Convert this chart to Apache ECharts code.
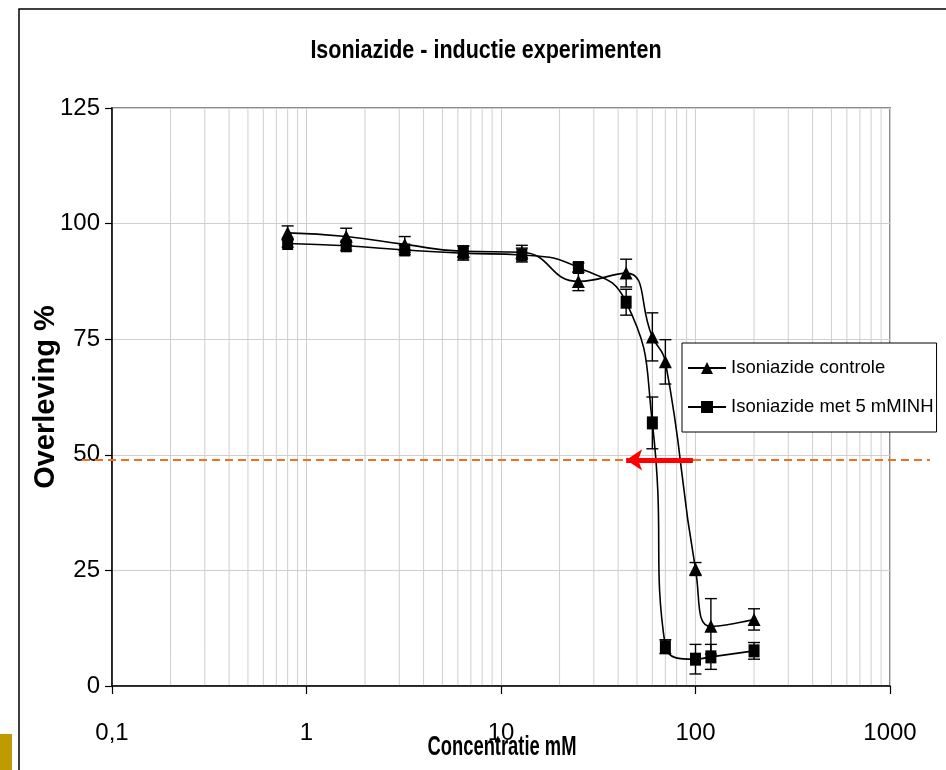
<!DOCTYPE html>
<html>
<head>
<meta charset="utf-8">
<title>Isoniazide - inductie experimenten</title>
<script src="https://cdn.jsdelivr.net/npm/echarts@6/dist/echarts.min.js"></script>
<style>
  html, body { margin: 0; padding: 0; background: #fff; }
  #chart { width: 946px; height: 770px; }
</style>
</head>
<body>
<div id="chart"></div>
<script>
// concentraties (mM), log schaal
var concentrations = [0.8, 1.6, 3.2, 6.4, 12.8, 25, 44, 60, 70, 100, 120, 200]
// overleving % met standaardfout
var controle = [98.0, 97.2, 95.5, 94.0, 93.8, 87.5, 89.3, 75.5, 70.1, 25.3, 12.9, 14.4]
var controleErr = [1.5, 1.8, 1.7, 1.2, 1.5, 2.0, 3.0, 5.2, 4.8, 1.4, 6.0, 2.3]
var met5 = [95.7, 95.2, 94.3, 93.6, 93.2, 90.5, 83.0, 56.9, 8.5, 5.8, 6.3, 7.6]
var met5Err = [0.8, 1.0, 1.0, 1.5, 1.5, 1.0, 2.8, 5.6, 1.5, 3.2, 2.7, 1.8]

var xTicks = [0.1, 1, 10, 100, 1000]
var minorTicks = [0.2, 0.3, 0.4, 0.5, 0.6, 0.7, 0.8, 0.9, 2, 3, 4, 5, 6, 7, 8, 9,
  20, 30, 40, 50, 60, 70, 80, 90, 200, 300, 400, 500, 600, 700, 800, 900]
var yTicks = [0, 25, 50, 75, 100, 125]

// 50% niveau en pijl
var halfLevel = 48.9
var arrowFrom = 97
var arrowTo = 44

var seriesNames = ['Isoniazide controle', 'Isoniazide met 5 mMINH']
var FONT = '"Liberation Sans", Arial, sans-serif'

function pairs(xs, ys) {
  return xs.map(function (x, i) { return [x, ys[i]] })
}
function errRows(xs, ys, es) {
  return xs.map(function (x, i) { return [x, ys[i] - es[i], ys[i] + es[i]] })
}

function renderError(params, api) {
  var top = api.coord([api.value(0), api.value(2)])
  var bot = api.coord([api.value(0), api.value(1)])
  var w = 6
  var style = { stroke: '#000', lineWidth: 1.4 }
  return {
    type: 'group',
    children: [
      { type: 'line', shape: { x1: top[0], y1: top[1], x2: bot[0], y2: bot[1] }, style: style },
      { type: 'line', shape: { x1: top[0] - w, y1: top[1], x2: top[0] + w, y2: top[1] }, style: style },
      { type: 'line', shape: { x1: bot[0] - w, y1: bot[1], x2: bot[0] + w, y2: bot[1] }, style: style }
    ]
  }
}

function renderMinor(params, api) {
  var a = api.coord([api.value(0), yTicks[0]])
  var b = api.coord([api.value(0), yTicks[yTicks.length - 1]])
  return {
    type: 'line',
    shape: { x1: a[0], y1: a[1], x2: b[0], y2: b[1] },
    style: { stroke: '#cfcfcf', lineWidth: 1 }
  }
}

var chart = echarts.init(document.getElementById('chart'))

chart.setOption({
  backgroundColor: '#fff',
  animation: false,
  grid: {
    left: 112,
    right: 56,
    top: 108,
    bottom: 84,
    show: true,
    borderColor: '#8c8c8c',
    borderWidth: 2
  },
  legend: {
    data: seriesNames,
    orient: 'vertical',
    left: 682,
    top: 343,
    backgroundColor: '#fff',
    borderColor: '#000',
    borderWidth: 1,
    borderRadius: 0,
    padding: [15, 3, 15, 5],
    itemGap: 19,
    itemWidth: 38,
    itemHeight: 15,
    textStyle: {
      fontFamily: FONT,
      fontSize: 18.5,
      color: '#000',
      lineHeight: 20
    }
  },
  xAxis: {
    type: 'log',
    logBase: 10,
    min: xTicks[0],
    max: xTicks[xTicks.length - 1],
    axisLine: { lineStyle: { color: '#000', width: 1.5 } },
    axisTick: { show: true, length: 8, lineStyle: { color: '#000', width: 1.2 } },
    axisLabel: {
      margin: 35,
      fontFamily: FONT,
      fontSize: 24,
      color: '#000',
      formatter: function (v) { return String(v).replace('.', ',') }
    },
    splitLine: { show: true, lineStyle: { color: '#cfcfcf', width: 1 } }
  },
  yAxis: {
    type: 'value',
    min: yTicks[0],
    max: yTicks[yTicks.length - 1],
    interval: 25,
    name: 'Overleving %',
    nameLocation: 'middle',
    nameGap: 52,
    nameMoveOverlap: false,
    nameTextStyle: {
      fontFamily: FONT,
      fontSize: 29,
      fontWeight: 'bold',
      color: '#000'
    },
    axisLine: { show: true, lineStyle: { color: '#000', width: 1.5 } },
    axisTick: { show: true, length: 7, lineStyle: { color: '#000', width: 1.2 } },
    axisLabel: {
      margin: 12,
      fontFamily: FONT,
      fontSize: 24,
      color: '#000'
    },
    splitLine: { show: true, lineStyle: { color: '#cfcfcf', width: 1 } }
  },
  series: [
    {
      name: 'minor',
      type: 'custom',
      silent: true,
      z: 0,
      renderItem: renderMinor,
      data: minorTicks.map(function (v) { return [v] }),
      encode: { x: 0 }
    },
    {
      name: seriesNames[0] + ' err',
      type: 'custom',
      silent: true,
      z: 3,
      renderItem: renderError,
      data: errRows(concentrations, controle, controleErr),
      encode: { x: 0, y: [1, 2] }
    },
    {
      name: seriesNames[1] + ' err',
      type: 'custom',
      silent: true,
      z: 3,
      renderItem: renderError,
      data: errRows(concentrations, met5, met5Err),
      encode: { x: 0, y: [1, 2] }
    },
    {
      name: seriesNames[0],
      type: 'line',
      smooth: true,
      z: 4,
      symbol: 'triangle',
      symbolSize: [13, 13],
      itemStyle: { color: '#000' },
      lineStyle: { color: '#000', width: 1.6 },
      data: pairs(concentrations, controle),
      markLine: {
        silent: true,
        symbol: ['none', 'arrow'],
        symbolSize: [16, 16],
        label: { show: false },
        lineStyle: { color: '#ff0000', width: 5, type: 'solid' },
        data: [[{ coord: [arrowFrom, halfLevel] }, { coord: [arrowTo, halfLevel] }]]
      }
    },
    {
      name: seriesNames[1],
      type: 'line',
      smooth: true,
      z: 4,
      symbol: 'rect',
      symbolSize: [11, 13],
      itemStyle: { color: '#000' },
      lineStyle: { color: '#000', width: 1.6 },
      data: pairs(concentrations, met5)
    }
  ]
})

// annotaties: rand, titel, as-naam, 50% lijn
var yHalf = chart.convertToPixel({ yAxisIndex: 0 }, halfLevel)

chart.setOption({
  graphic: [
    {
      type: 'rect',
      z: -10,
      shape: { x: 19, y: 9, width: 1000, height: 1000 },
      style: { fill: 'none', stroke: '#000', lineWidth: 1.5 }
    },
    {
      type: 'rect',
      shape: { x: 0, y: 734, width: 12, height: 36 },
      style: { fill: '#bf9a00' }
    },
    {
      type: 'text',
      x: 486,
      y: 51,
      scaleX: 0.86,
      style: {
        text: 'Isoniazide - inductie experimenten',
        fontFamily: FONT,
        fontSize: 25,
        fontWeight: 'bold',
        fill: '#000',
        align: 'center',
        verticalAlign: 'middle'
      }
    },
    {
      type: 'text',
      x: 502,
      y: 748,
      scaleX: 0.68,
      style: {
        text: 'Concentratie mM',
        fontFamily: FONT,
        fontSize: 27,
        fontWeight: 'bold',
        fill: '#000',
        align: 'center',
        verticalAlign: 'middle'
      }
    },
    {
      type: 'line',
      z: 1,
      shape: { x1: 82, y1: yHalf, x2: 930, y2: yHalf },
      style: { stroke: '#f07020', lineWidth: 2, lineDash: [8, 5] }
    }
  ]
})
</script>
</body>
</html>
